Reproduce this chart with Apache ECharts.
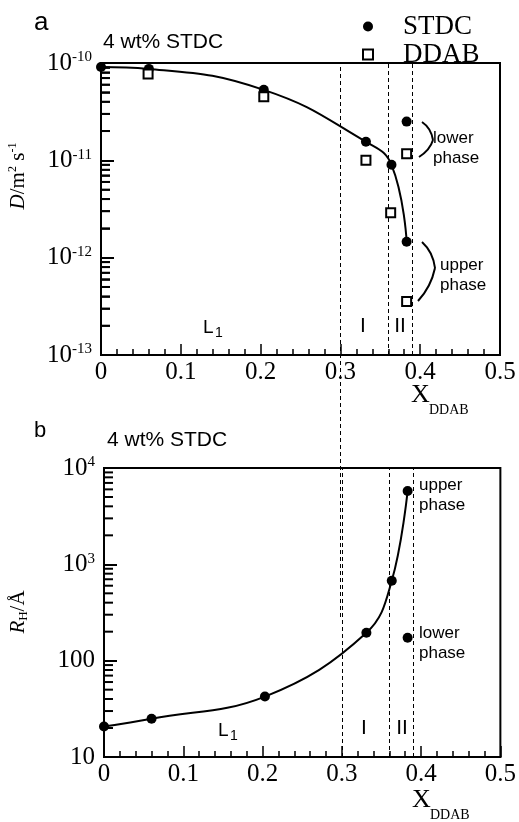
<!DOCTYPE html>
<html>
<head>
<meta charset="utf-8">
<script src="https://cdn.jsdelivr.net/npm/echarts@6/dist/echarts.min.js"></script>
<style>html,body{margin:0;padding:0;background:#fff;}#c{width:519px;height:822px;}</style>
</head>
<body>
<div id="c"></div>
<script>
// ---- data (panel a: diffusion coefficient D, m^2 s^-1) ----
const stdcX = [0, 0.06, 0.204, 0.332, 0.364, 0.383];
const stdcD = [9.1e-11, 8.7e-11, 5.3e-11, 1.55e-11, 9.0e-12, 1.46e-12];
const stdcLowerX = [0.383];
const stdcLowerD = [2.5e-11];
const ddabX = [0.059, 0.204, 0.332, 0.363, 0.383, 0.383];
const ddabD = [7.7e-11, 4.5e-11, 1.0e-11, 2.9e-12, 1.17e-11, 3.55e-13];
// ---- data (panel b: hydrodynamic radius R_H, Å) ----
const rhX = [0, 0.06, 0.203, 0.331, 0.363, 0.383];
const rhR = [20.7, 25, 42.4, 195, 675, 5780];
const rhLowerX = [0.383];
const rhLowerR = [173];
// phase boundaries
const boundaries = [0.3, 0.363, 0.392];
// axis ranges / tick labels
const xRange = [0, 0.5];
const dRange = [1e-13, 1e-10];
const rRange = [10, 1e4];
const dDecades = [-13, -12, -11, -10];
const rDecades = [1, 2, 3, 4];

const pairs = (xs, ys) => xs.map((x, i) => [x, ys[i]]);
const minorVals = decs => {
  const out = [];
  decs.slice(0, -1).forEach(e => { for (let k = 2; k <= 9; k++) out.push(k * Math.pow(10, e)); });
  return out;
};
const TICK_LEN_X = 0.0113; // minor tick length in x-axis units (~9 px)

const SERIF = '"Liberation Serif", "Times New Roman", serif';
const SANS = '"Liberation Sans", Arial, sans-serif';

const supRich = {
  b: { fontFamily: SERIF, fontSize: 25, color: '#000', lineHeight: 26 },
  s: { fontFamily: SERIF, fontSize: 15, color: '#000', lineHeight: 15, verticalAlign: 'top' }
};

const chart = echarts.init(document.getElementById('c'), null, { renderer: 'canvas' });

function xAxisCfg(grid) {
  return {
    type: 'value', gridIndex: grid, min: xRange[0], max: xRange[1], interval: 0.1,
    axisLine: { show: true, lineStyle: { color: '#000', width: 2 } },
    axisTick: { show: true, inside: true, length: 11, lineStyle: { color: '#000', width: 1.5 } },
    minorTick: { show: true, splitNumber: 5, length: 6, lineStyle: { color: '#000', width: 1.5 } },
    splitLine: { show: false },
    axisLabel: {
      fontFamily: SERIF, fontSize: 25, color: '#000', margin: 5,
      formatter: v => (Math.abs(v) < 1e-9 ? '0' : String(Math.round(v * 10) / 10))
    }
  };
}
function yMajor(grid, range, fmt) {
  return {
    type: 'log', gridIndex: grid, min: range[0], max: range[1], logBase: 10, splitNumber: 3,
    axisLine: { show: true, lineStyle: { color: '#000', width: 2 } },
    axisTick: { show: true, inside: true, length: 13, lineStyle: { color: '#000', width: 2 } },
    splitLine: { show: false },
    axisLabel: { margin: 9, color: '#000', formatter: fmt, rich: supRich }
  };
}

// minor log ticks (2..9 per decade) as short bar symbols on the axis scale
function minorTickSeries(xi, yi, decs) {
  return {
    type: 'scatter', xAxisIndex: xi, yAxisIndex: yi, clip: false,
    data: minorVals(decs).map(v => [xRange[0], v]),
    symbol: 'rect', symbolSize: [9, 2], symbolOffset: [4.5, 0],
    itemStyle: { color: '#000', opacity: 1 }
  };
}

const dashed = { color: '#000', width: 1, type: [4, 3] };
function vlineData(vals) {
  return vals.map(v => ({ xAxis: v, lineStyle: dashed }));
}
// minor ticks also as markLine segments in data coordinates
function tickSegs(decs) {
  return minorVals(decs).map(v => [
    { coord: [xRange[0], v], lineStyle: { color: '#000', width: 1.6, type: 'solid' } },
    { coord: [xRange[0] + TICK_LEN_X, v] }
  ]);
}
function markLines(data) {
  return {
    silent: true, symbol: ['none', 'none'], label: { show: false },
    lineStyle: dashed, emphasis: { disabled: true }, data: data
  };
}

const option = {
  animation: false,
  backgroundColor: '#fff',
  grid: [
    { left: 101, top: 63, width: 399, height: 292, show: true, borderColor: '#000', borderWidth: 2, backgroundColor: 'transparent' },
    { left: 104, top: 468, width: 399, height: 289, show: true, borderColor: '#000', borderWidth: 2, backgroundColor: 'transparent' },
    { left: 101, top: 63, width: 399, height: 554, show: false }
  ],
  xAxis: [
    xAxisCfg(0),
    xAxisCfg(1),
    { type: 'value', gridIndex: 2, min: xRange[0], max: xRange[1], show: false }
  ],
  yAxis: [
    yMajor(0, dRange, v => '{b|10}{s|' + Math.round(Math.log10(v)) + '}'),
    yMajor(1, rRange, v => { const e = Math.round(Math.log10(v)); return e >= 3 ? '{b|10}{s|' + e + '}' : '{b|' + Math.round(v) + '}'; }),
    { type: 'value', gridIndex: 2, min: 0, max: 1, show: false }
  ],
  legend: {
    orient: 'vertical', left: 357, top: 8, itemGap: 1, itemWidth: 10, itemHeight: 10,
    textStyle: { fontFamily: SERIF, fontSize: 27, color: '#000', padding: [0, 0, 0, 25] },
    selectedMode: false,
    data: [
      { name: 'STDC', icon: 'circle' },
      { name: 'DDAB', icon: 'rect', itemStyle: { color: '#fff', borderColor: '#000', borderWidth: 2 } }
    ]
  },
  series: [
    minorTickSeries(0, 0, dDecades),
    minorTickSeries(1, 1, rDecades),
    {
      name: 'STDC', type: 'line', xAxisIndex: 0, yAxisIndex: 0, data: pairs(stdcX, stdcD),
      smooth: 0.45, symbol: 'circle', symbolSize: 10,
      itemStyle: { color: '#000', opacity: 1 }, lineStyle: { color: '#000', width: 2 },
      markLine: markLines(vlineData(boundaries.slice(1)).concat(tickSegs(dDecades))), z: 5
    },
    {
      name: 'STDC', type: 'scatter', xAxisIndex: 0, yAxisIndex: 0, data: pairs(stdcLowerX, stdcLowerD),
      symbol: 'circle', symbolSize: 10, itemStyle: { color: '#000', opacity: 1 }
    },
    {
      name: 'DDAB', type: 'scatter', xAxisIndex: 0, yAxisIndex: 0, data: pairs(ddabX, ddabD),
      symbol: 'rect', symbolSize: 9, itemStyle: { color: '#fff', borderColor: '#000', borderWidth: 2, opacity: 1 }, z: 6
    },
    {
      name: 'RH', type: 'line', xAxisIndex: 1, yAxisIndex: 1, data: pairs(rhX, rhR),
      smooth: 0.4, symbol: 'circle', symbolSize: 10,
      itemStyle: { color: '#000', opacity: 1 }, lineStyle: { color: '#000', width: 2 },
      markLine: markLines(vlineData(boundaries)), z: 5
    },
    {
      name: 'RH lower', type: 'scatter', xAxisIndex: 1, yAxisIndex: 1, data: pairs(rhLowerX, rhLowerR),
      symbol: 'circle', symbolSize: 10, itemStyle: { color: '#000', opacity: 1 }
    },
    {
      name: 'guide', type: 'line', xAxisIndex: 2, yAxisIndex: 2, data: [], symbol: 'none',
      markLine: markLines(vlineData(boundaries.slice(0, 1)))
    }
  ],
  graphic: []
};

chart.setOption(option);

function txt(text, x, y, size, family, align) {
  return {
    type: 'text', x: x, y: y, silent: true, z: 100,
    style: { text: text, font: size + 'px ' + family, fill: '#000', align: align || 'left', verticalAlign: 'middle' }
  };
}
function brace(x1, y1, cx1, cy1, tx, ty, cx2, cy2, x2, y2) {
  const st = { stroke: '#000', lineWidth: 2, fill: null };
  return [
    { type: 'bezierCurve', silent: true, z: 100, shape: { x1: x1, y1: y1, cpx1: cx1, cpy1: cy1, x2: tx, y2: ty }, style: st },
    { type: 'bezierCurve', silent: true, z: 100, shape: { x1: tx, y1: ty, cpx1: cx2, cpy1: cy2, x2: x2, y2: y2 }, style: st }
  ];
}

const g = [
  txt('a', 34, 23, 26, SANS),
  txt('4 wt% STDC', 103, 42, 21, SANS),
  txt('lower', 433, 138, 17, SANS),
  txt('phase', 433, 158, 17, SANS),
  txt('upper', 440, 265, 17, SANS),
  txt('phase', 440, 285, 17, SANS),
  txt('L', 203, 328, 19, SANS),
  txt('1', 215, 333, 14, SANS),
  txt('I', 363, 326, 21, SANS, 'center'),
  txt('II', 400, 326, 21, SANS, 'center'),
  txt('X', 411, 395, 26, SERIF),
  txt('DDAB', 429, 410, 14, SERIF),
  {
    type: 'text', x: 18, y: 176, rotation: Math.PI / 2, silent: true, z: 100,
    style: {
      text: '{i|D}{n|/m}{s|2}{n| s}{s|-1}', align: 'center', verticalAlign: 'middle',
      rich: {
        i: { fontFamily: SERIF, fontStyle: 'italic', fontSize: 21, fill: '#000', lineHeight: 22 },
        n: { fontFamily: SERIF, fontSize: 21, fill: '#000', lineHeight: 22 },
        s: { fontFamily: SERIF, fontSize: 12, fill: '#000', lineHeight: 12, verticalAlign: 'top' }
      }
    }
  },
  txt('b', 34, 431, 22, SANS),
  txt('4 wt% STDC', 107, 440, 21, SANS),
  txt('upper', 419, 485, 17, SANS),
  txt('phase', 419, 505, 17, SANS),
  txt('lower', 419, 633, 17, SANS),
  txt('phase', 419, 653, 17, SANS),
  txt('L', 218, 731, 19, SANS),
  txt('1', 230, 736, 14, SANS),
  txt('I', 364, 728, 21, SANS, 'center'),
  txt('II', 402, 728, 21, SANS, 'center'),
  txt('X', 412, 800, 26, SERIF),
  txt('DDAB', 430, 815, 14, SERIF),
  {
    type: 'text', x: 18, y: 612, rotation: Math.PI / 2, silent: true, z: 100,
    style: {
      text: '{i|R}{sub|H}{n|/Å}', align: 'center', verticalAlign: 'middle',
      rich: {
        i: { fontFamily: SERIF, fontStyle: 'italic', fontSize: 21, fill: '#000', lineHeight: 24 },
        n: { fontFamily: SERIF, fontSize: 21, fill: '#000', lineHeight: 24 },
        sub: { fontFamily: SERIF, fontSize: 13, fill: '#000', lineHeight: 13, verticalAlign: 'bottom' }
      }
    }
  }
].concat(
  brace(422, 122, 431, 128, 433, 140, 430, 150, 419, 157),
  brace(422, 242, 433, 252, 435, 268, 431, 287, 418, 301)
);

chart.setOption({ graphic: g });
</script>
</body>
</html>
